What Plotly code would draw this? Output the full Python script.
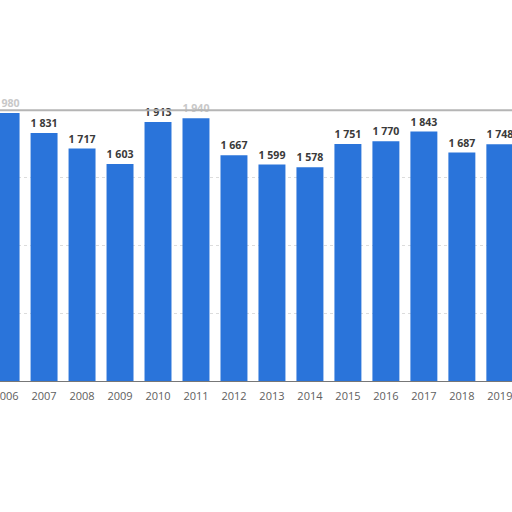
import plotly.graph_objects as go

years = [2006, 2007, 2008, 2009, 2010, 2011, 2012, 2013, 2014, 2015, 2016, 2017, 2018, 2019]
values = [1980, 1831, 1717, 1603, 1913, 1940, 1667, 1599, 1578, 1751, 1770, 1843, 1687, 1748]
grid_values = [0, 500, 1000, 1500]

bar_color = '#2a74da'
label_color = '#3a3a3a'
faded_color = '#c8c8c8'

labels = [f"{v:,}".replace(',', ' ') for v in values]
label_colors = [faded_color if y in (2006, 2011) else label_color for y in years]

fig = go.Figure()

fig.add_trace(
    go.Bar(
        x=years,
        y=values,
        marker={'color': bar_color, 'line': {'width': 0}},
        text=labels,
        textposition='outside',
        textfont={'family': 'Open Sans, sans-serif', 'size': 11, 'color': label_colors, 'weight': 'bold'},
        cliponaxis=False,
        showlegend=False,
    )
)

# the grey line along the top of the chart
fig.add_hline(y=2000, line={'color': '#b5b5b5', 'width': 2})

fig.update_layout(
    width=512,
    height=512,
    plot_bgcolor='white',
    paper_bgcolor='white',
    margin=dict(l=0, r=0, t=0, b=131, pad=0, autoexpand=False),
    bargap=0.29,
    font={'family': 'Open Sans, sans-serif', 'size': 11, 'color': '#555555'},
)

# the chart is a crop: the first and last years sit on the edges
fig.update_xaxes(
    range=[2005.84, 2019.32],
    tickvals=years,
    ticktext=[str(y) for y in years],
    tickfont={'size': 11, 'color': '#606060'},
    ticklabeloverflow='allow',
    ticklabelstandoff=5,
    automargin=False,
    showgrid=False,
    showline=True,
    linecolor='#777777',
    linewidth=1,
    ticks='',
)

fig.update_yaxes(
    range=[0, 2814],
    tickvals=grid_values,
    showticklabels=False,
    automargin=False,
    showgrid=True,
    gridcolor='#dcdcdc',
    griddash='dot',
    gridwidth=1,
    zeroline=False,
)

# no page margin, so the figure fills the whole window
fig.write_html(
    "out.html",
    config={'displayModeBar': False},
    post_script="document.body.style.margin = '0';",
)
